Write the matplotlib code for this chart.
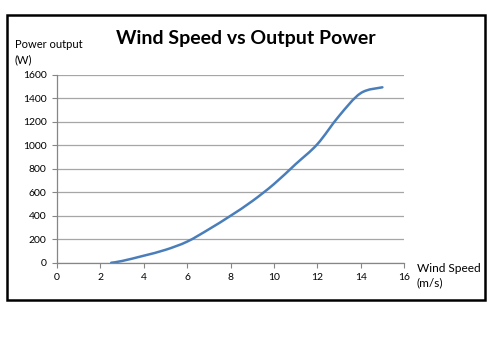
import numpy as np
import matplotlib.pyplot as plt
from matplotlib.patches import Rectangle, PathPatch
from matplotlib.path import Path

# wind speed (m/s) and power output (W)
speed = [2.5, 3, 4, 5, 6, 7, 8, 9, 10, 11, 12, 13, 14, 15]
power = [0, 15, 60, 110, 180, 285, 400, 525, 670, 840, 1010, 1250, 1445, 1495]

x_ticks = [0, 2, 4, 6, 8, 10, 12, 14, 16]
y_ticks = [0, 200, 400, 600, 800, 1000, 1200, 1400, 1600]

plt.rcParams['font.family'] = ['Lato', 'DejaVu Sans']


def smooth_path(xs, ys):
    # excel-style smoothed line: bezier segments through every point
    p = np.column_stack([xs, ys]).astype(float)
    n = len(p)
    verts = [p[0]]
    codes = [Path.MOVETO]
    for i in range(n - 1):
        prev = p[i - 1] if i > 0 else p[i]
        nxt = p[i + 2] if i + 2 < n else p[i + 1]
        c1 = p[i] + (p[i + 1] - prev) / 6
        c2 = p[i + 1] - (nxt - p[i]) / 6
        verts += [c1, c2, p[i + 1]]
        codes += [Path.CURVE4] * 3
    return Path(verts, codes)


fig = plt.figure(figsize=(4.91, 3.57), dpi=100)
ax = fig.add_axes([0.116, 0.264, 0.707, 0.526])

ax.add_patch(PathPatch(smooth_path(speed, power), fill=False, ec='#4a7ebb', lw=1.8,
                       capstyle='round'))

ax.set_xlim(0, 16)
ax.set_ylim(0, 1600)
ax.set_xticks(x_ticks)
ax.set_yticks(y_ticks)
ax.tick_params(labelsize=7.5, colors='#868686', labelcolor='black', length=3.5, width=0.8, pad=4)
ax.grid(axis='y', color='#a6a6a6', lw=0.9)
ax.set_axisbelow(True)
for s in ['top', 'right']:
    ax.spines[s].set_visible(False)
for s in ['left', 'bottom']:
    ax.spines[s].set_color('#868686')
    ax.spines[s].set_linewidth(0.9)

fig.text(0.5, 0.893, 'Wind Speed vs Output Power', ha='center', va='center',
         fontsize=14, fontweight='bold')
fig.text(0.03, 0.855, 'Power output\n(W)', ha='left', va='center', fontsize=8, linespacing=1.5)
fig.text(0.849, 0.227, 'Wind Speed\n(m/s)', ha='left', va='center', fontsize=8.6, linespacing=1.35)

fig.patches.append(Rectangle((0.0143, 0.16), 0.9735, 0.798, transform=fig.transFigure,
                             fill=False, ec='black', lw=1.8))

fig.savefig('out.png', dpi=100)
